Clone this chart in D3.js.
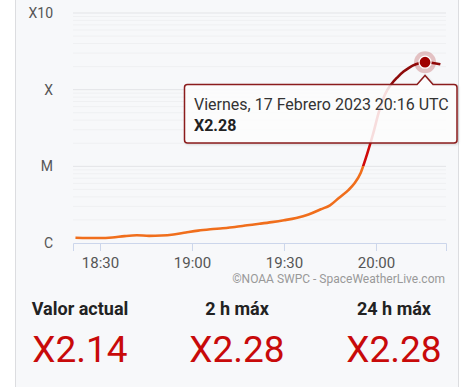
<!DOCTYPE html>
<html>
<head>
<meta charset="utf-8">
<script src="https://cdn.jsdelivr.net/npm/d3@7"></script>
<style>
  body { margin: 0; background: #fff; font-family: Roboto, sans-serif; }
</style>
</head>
<body>
<div id="chart"></div>
<script>
const WIDTH = 474;
const HEIGHT = 387;

// GOES X-ray flux, 17 Feb 2023 (UTC)
const times = ["18:22","18:26","18:30","18:34","18:38","18:42","18:46","18:50","18:54","18:58",
  "19:02","19:06","19:10","19:14","19:18","19:22","19:26","19:30","19:34","19:38",
  "19:42","19:45","19:48","19:51","19:53","19:55","19:57","19:59","20:01","20:03",
  "20:05","20:07","20:09","20:11","20:13","20:15","20:16","20:18","20:20","20:21"];
const flux = [1.17e-6,1.16e-6,1.16e-6,1.18e-6,1.23e-6,1.26e-6,1.24e-6,1.25e-6,1.29e-6,1.37e-6,
  1.45e-6,1.51e-6,1.56e-6,1.62e-6,1.70e-6,1.78e-6,1.87e-6,1.98e-6,2.12e-6,2.35e-6,
  2.75e-6,3.1e-6,3.9e-6,4.9e-6,6.0e-6,8.2e-6,1.4e-5,2.6e-5,5.2e-5,8.8e-5,
  1.18e-4,1.45e-4,1.72e-4,1.96e-4,2.14e-4,2.26e-4,2.28e-4,2.24e-4,2.18e-4,2.14e-4];

const classTicks = [1e-6, 1e-5, 1e-4, 1e-3];
const classLabels = ["C", "M", "X", "X10"];
const timeTicks = ["18:30", "19:00", "19:30", "20:00"];

const peakTime = "20:16";
const peakFlux = 2.28e-4;
const tooltipDate = "Viernes, 17 Febrero 2023 20:16 UTC";
const tooltipValue = "X2.28";

const statLabels = ["Valor actual", "2 h máx", "24 h máx"];
const statValues = ["X2.14", "X2.28", "X2.28"];

let toDate = s => {
  let [h, m] = s.split(":").map(Number);
  return new Date(Date.UTC(2023, 1, 17, h, m));
}

let data = times.map((t, i) => ({ t: toDate(t), v: flux[i] }));

var svg = d3.select("#chart")
  .append("svg")
  .attr("width", WIDTH)
  .attr("height", HEIGHT)
  .style("display", "block");

// card
svg.append("rect")
  .attr("x", 15.5).attr("y", -2)
  .attr("width", 443).attr("height", HEIGHT + 4)
  .attr("fill", "#f7f8fa")
  .attr("stroke", "#dcdde0");

var x = d3.scaleUtc()
  .domain([new Date(Date.UTC(2023, 1, 17, 18, 21, 12)), new Date(Date.UTC(2023, 1, 17, 20, 22, 50))])
  .range([73, 446]);

var y = d3.scaleLog()
  .domain([1e-6, 1e-3])
  .range([243, 13]);

// minor grid
let minors = [];
[1e-6, 1e-5, 1e-4].forEach(d => { for (let k = 2; k <= 9; k++) minors.push(d * k) });

svg.append("g")
  .selectAll("line")
  .data(minors)
  .enter()
  .append("line")
  .attr("x1", 73).attr("x2", 446)
  .attr("y1", d => y(d)).attr("y2", d => y(d))
  .style("stroke", "#eff0f2");

svg.append("g")
  .selectAll("line")
  .data(classTicks.slice(1))
  .enter()
  .append("line")
  .attr("x1", 73).attr("x2", 446)
  .attr("y1", d => y(d)).attr("y2", d => y(d))
  .style("stroke", "#e3e4e7");

// y labels
svg.append("g")
  .selectAll("text")
  .data(classTicks)
  .enter()
  .append("text")
  .attr("x", 53)
  .attr("y", d => y(d))
  .attr("dy", "0.35em")
  .attr("text-anchor", "end")
  .style("font-size", "14px")
  .style("fill", "#555")
  .text((d, i) => classLabels[i]);

// x axis
var xAxis = d3.axisBottom(x)
  .tickValues(timeTicks.map(toDate))
  .tickFormat(d3.utcFormat("%H:%M"))
  .tickSize(8)
  .tickPadding(6);

var gx = svg.append("g")
  .attr("transform", `translate(0, ${y(1e-6)})`)
  .call(xAxis);
gx.select(".domain").attr("stroke", "#ccd6eb");
gx.selectAll(".tick line").attr("stroke", "#ccd6eb");
gx.selectAll(".tick text")
  .style("font-family", "Roboto, sans-serif")
  .style("font-size", "15px")
  .style("fill", "#555");

// line, coloured by flare class
var defs = svg.append("defs");
var grad = defs.append("linearGradient")
  .attr("id", "zones")
  .attr("gradientUnits", "userSpaceOnUse")
  .attr("x1", 0).attr("x2", 0)
  .attr("y1", y(1e-6)).attr("y2", y(1e-3));
let span = y(1e-6) - y(1e-3);
let offM = (y(1e-6) - y(1e-5)) / span;
let offX = (y(1e-6) - y(1e-4)) / span;
[[0, "#f06e1c"], [offM, "#f06e1c"], [offM, "#d10a0a"], [offX, "#d10a0a"], [offX, "#8e0b0b"], [1, "#8e0b0b"]]
  .forEach(s => grad.append("stop").attr("offset", s[0]).attr("stop-color", s[1]));

var line = d3.line()
  .x(d => x(d.t))
  .y(d => y(d.v))
  .curve(d3.curveMonotoneX);

svg.append("path")
  .datum(data)
  .attr("d", line)
  .attr("fill", "none")
  .attr("stroke", "url(#zones)")
  .attr("stroke-width", 2.6)
  .attr("stroke-linejoin", "round");

// hovered point
let px = x(toDate(peakTime)), py = y(peakFlux);
svg.append("circle")
  .attr("cx", px).attr("cy", py).attr("r", 11)
  .attr("fill", "#a00000").attr("fill-opacity", 0.22);
svg.append("circle")
  .attr("cx", px).attr("cy", py).attr("r", 6)
  .attr("fill", "#a00000")
  .attr("stroke", "#fff").attr("stroke-width", 1.2);

// tooltip
var shadow = defs.append("filter").attr("id", "shadow")
  .attr("x", "-10%").attr("y", "-10%").attr("width", "120%").attr("height", "130%");
shadow.append("feDropShadow")
  .attr("dx", 1).attr("dy", 1).attr("stdDeviation", 1)
  .attr("flood-color", "#000").attr("flood-opacity", 0.15);

let tl = 184.5, tr = 457, tt = 84.5, tb = 143, r = 3;
let tip = `M${tl + r},${tt} L${px - 8},${tt} L${px},${tt - 9} L${px + 8},${tt} L${tr - r},${tt}
  Q${tr},${tt} ${tr},${tt + r} L${tr},${tb - r} Q${tr},${tb} ${tr - r},${tb}
  L${tl + r},${tb} Q${tl},${tb} ${tl},${tb - r} L${tl},${tt + r} Q${tl},${tt} ${tl + r},${tt} Z`;
svg.append("path")
  .attr("d", tip)
  .attr("fill", "#fff").attr("fill-opacity", 0.85)
  .attr("stroke", "#8b1c1c").attr("stroke-width", 1.5)
  .attr("filter", "url(#shadow)");

svg.append("text")
  .attr("x", 194).attr("y", 110)
  .style("font-size", "16px").style("fill", "#333")
  .text(tooltipDate);
svg.append("text")
  .attr("x", 194).attr("y", 131)
  .style("font-size", "16px").style("font-weight", "bold").style("fill", "#222")
  .text(tooltipValue);

// credit
svg.append("text")
  .attr("x", 445).attr("y", 283)
  .attr("text-anchor", "end")
  .style("font-size", "12px").style("fill", "#999")
  .text("©NOAA SWPC - SpaceWeatherLive.com");

// stats
let cols = [80, 237, 394];
svg.append("g")
  .selectAll("text")
  .data(statLabels)
  .enter()
  .append("text")
  .attr("x", (d, i) => cols[i]).attr("y", 315)
  .attr("text-anchor", "middle")
  .style("font-size", "18px").style("font-weight", "bold").style("fill", "#222")
  .text(d => d);

svg.append("g")
  .selectAll("text")
  .data(statValues)
  .enter()
  .append("text")
  .attr("x", (d, i) => cols[i]).attr("y", 362)
  .attr("text-anchor", "middle")
  .style("font-size", "37px").style("fill", "#c80a0a")
  .text(d => d);
</script>
</body>
</html>
